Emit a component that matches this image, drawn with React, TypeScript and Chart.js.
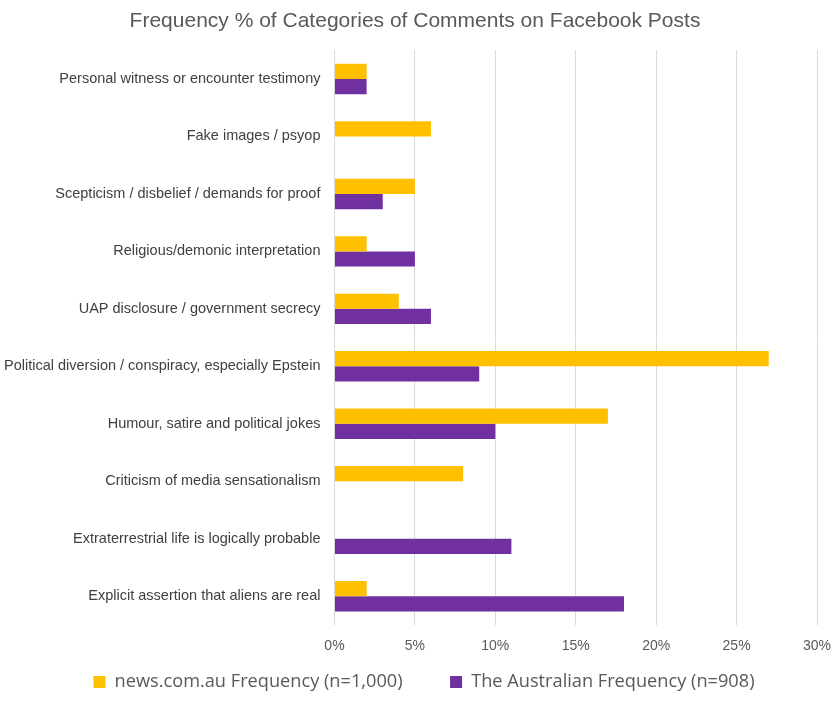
import React, { useEffect, useRef } from "react";
import { Chart, registerables } from "chart.js";

Chart.register(...registerables);

const categories = [
  "Personal witness or encounter testimony",
  "Fake images / psyop",
  "Scepticism / disbelief / demands for proof",
  "Religious/demonic interpretation",
  "UAP disclosure / government secrecy",
  "Political diversion / conspiracy, especially Epstein",
  "Humour, satire and political jokes",
  "Criticism of media sensationalism",
  "Extraterrestrial life is logically probable",
  "Explicit assertion that aliens are real",
];
const newsValues = [2, 6, 5, 2, 4, 27, 17, 8, 0, 2];
const australianValues = [2, 0, 3, 5, 6, 9, 10, 0, 11, 18];
const seriesLabels = ["news.com.au Frequency (n=1,000)", "The Australian Frequency (n=908)"];
const titleText = "Frequency % of Categories of Comments on Facebook Posts";

const shiftLegend = {
  id: "shiftLegend",
  afterLayout(chart: any) {
    const l = chart.legend;
    if (l) {
      l.left += 9;
      l.right += 9;
    }
  },
};

export default function App() {
  const ref = useRef<HTMLCanvasElement>(null);
  useEffect(() => {
    if (!ref.current) return;
    const chart = new Chart(ref.current, {
      type: "bar",
      data: {
        labels: categories,
        datasets: [
          { label: seriesLabels[0], data: newsValues, backgroundColor: "#FFC000", barPercentage: 1, categoryPercentage: 0.53 },
          { label: seriesLabels[1], data: australianValues, backgroundColor: "#7030A0", barPercentage: 1, categoryPercentage: 0.53 },
        ],
      },
      options: {
        indexAxis: "y",
        animation: false,
        responsive: false,
        maintainAspectRatio: false,
        layout: { padding: { left: -10, right: -2, top: 6, bottom: 1 } },
        plugins: {
          title: {
            display: true,
            text: titleText,
            color: "#595959",
            font: { family: "'Liberation Sans', sans-serif", size: 21, weight: "normal" },
            padding: { top: 3, bottom: 16 },
          },
          legend: {
            position: "bottom",
            labels: {
              color: "#595959",
              font: { family: "'Open Sans', sans-serif", size: 18.2 },
              boxWidth: 12,
              boxHeight: 12,
              padding: 5,
              generateLabels: (c: any) => {
                const items = Chart.defaults.plugins.legend.labels.generateLabels(c);
                items.forEach((it: any, i: number) => {
                  if (i < items.length - 1) it.text = it.text + "         ";
                });
                return items;
              },
            },
          },
          tooltip: { enabled: false },
        },
        scales: {
          x: {
            min: 0,
            max: 30,
            ticks: {
              stepSize: 5,
              callback: (v: any) => v + "%",
              color: "#595959",
              font: { family: "'Liberation Sans', sans-serif", size: 14 },
              padding: 13,
            },
            grid: { color: "#d9d9d9", drawTicks: false },
            border: { display: false },
            afterFit: (scale: any) => {
              scale.paddingRight = 21;
            },
          },
          y: {
            ticks: {
              color: "#404040",
              font: { family: "'Liberation Sans', sans-serif", size: 14.5 },
              padding: 14,
            },
            grid: { display: false, drawTicks: false },
            border: { display: false },
          },
        },
      },
      plugins: [shiftLegend],
    });
    return () => chart.destroy();
  }, []);
  return (
    <div style={{ position: "fixed", left: 0, top: 0, width: 838, height: 702, background: "#fff" }}>
      <canvas ref={ref} width={838} height={702} style={{ width: 838, height: 702 }} />
    </div>
  );
}
